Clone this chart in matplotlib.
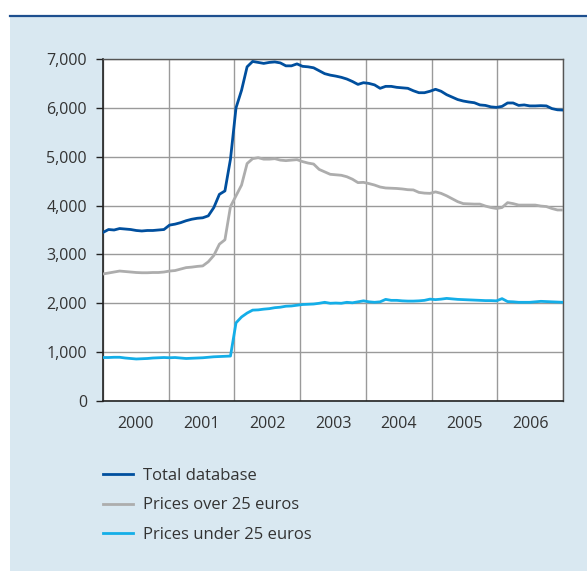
import numpy as np
import matplotlib.pyplot as plt
from matplotlib.lines import Line2D
from matplotlib.patches import Rectangle

plt.rcParams['font.family'] = ['Open Sans', 'DejaVu Sans']

# monthly values, Jan 2000 .. Dec 2006
total = [3450, 3510, 3500, 3530, 3520, 3510, 3490, 3480, 3490, 3490, 3500, 3510,
         3600, 3620, 3650, 3690, 3720, 3740, 3750, 3790, 3960, 4230, 4300, 4950,
         6000, 6360, 6840, 6950, 6930, 6910, 6930, 6940, 6920, 6860, 6860, 6900,
         6850, 6840, 6820, 6760, 6700, 6670, 6650, 6625, 6590, 6540, 6480, 6515,
         6500, 6470, 6400, 6440, 6440, 6420, 6410, 6400, 6350, 6310, 6310, 6340,
         6380, 6340, 6270, 6220, 6170, 6140, 6120, 6105, 6060, 6050, 6020, 6010,
         6030, 6100, 6100, 6050, 6060, 6040, 6040, 6045, 6040, 5985, 5960, 5955]

over25 = [2600, 2620, 2640, 2660, 2650, 2640, 2630, 2625, 2625, 2630, 2630, 2640,
          2660, 2670, 2700, 2730, 2740, 2755, 2765, 2850, 2980, 3210, 3300, 3980,
          4200, 4420, 4860, 4960, 4980, 4950, 4950, 4960, 4930, 4920, 4930, 4940,
          4900, 4870, 4850, 4740, 4690, 4640, 4630, 4620, 4590, 4540, 4470, 4475,
          4450, 4420, 4380, 4360, 4355, 4350, 4340, 4325, 4320, 4270, 4255, 4250,
          4280, 4250, 4200, 4140, 4080, 4040, 4035, 4030, 4030, 3990, 3960, 3940,
          3960, 4060, 4040, 4010, 4010, 4010, 4010, 3990, 3980, 3940, 3910, 3910]

under25 = [890, 890, 895, 895, 880, 870, 860, 865, 870, 880, 885, 890,
           885, 890, 880, 870, 875, 880, 885, 895, 905, 910, 915, 920,
           1600, 1720, 1800, 1860, 1865, 1880, 1890, 1910, 1920, 1940, 1945, 1960,
           1975, 1980, 1985, 2000, 2020, 2000, 2005, 2000, 2020, 2010, 2030, 2050,
           2030, 2020, 2030, 2080, 2060, 2060, 2050, 2045, 2045, 2050, 2060, 2085,
           2075, 2085, 2100, 2090, 2080, 2075, 2070, 2065, 2060, 2055, 2055, 2050,
           2095, 2035, 2030, 2020, 2020, 2020, 2030, 2040, 2035, 2030, 2025, 2020]

years = ['2000', '2001', '2002', '2003', '2004', '2005', '2006']
labels = ['Total database', 'Prices over 25 euros', 'Prices under 25 euros']
colors = ['#004f9e', '#adadad', '#14aee8']

x = np.linspace(2000, 2007, len(total))

fig = plt.figure(figsize=(5.87, 5.71), dpi=100)
fig.patch.set_facecolor('white')
# light blue panel with dark top rule
fig.add_artist(Rectangle((10/587, 0), 1, 1 - 16/571, transform=fig.transFigure,
                         facecolor='#d9e8f1', edgecolor='none', zorder=0))
fig.add_artist(Line2D([10/587, 1], [1 - 15.5/571, 1 - 15.5/571], transform=fig.transFigure,
                      color='#1d4f8f', lw=1.6, zorder=1))

ax = fig.add_axes([103/587, 1 - 401/571, 460/587, 342/571])
ax.set_facecolor('white')

for s, c, l in zip([total, over25, under25], colors, labels):
    ax.plot(x, s, color=c, lw=2.0, label=l, zorder=3, solid_joinstyle='round')

ax.set_xlim(2000, 2007)
ax.set_ylim(0, 7000)
ax.set_yticks(range(0, 7001, 1000))
ax.set_yticklabels(['{:,}'.format(v) for v in range(0, 7001, 1000)])
ax.set_xticks(range(2000, 2008))
ax.set_xticklabels([])
ax.set_xticks(np.arange(2000.5, 2007, 1), minor=True)
ax.set_xticklabels(years, minor=True)
ax.tick_params(axis='x', which='both', length=0, pad=11, labelsize=11.5, colors='#333333')
ax.tick_params(axis='y', length=5, width=1, pad=6.5, labelsize=11.5, colors='#333333')
ax.tick_params(axis='y', color='#222222')
ax.grid(True, which='major', color='#9a9a9a', lw=1)
ax.set_axisbelow(True)
for side in ['left', 'bottom']:
    ax.spines[side].set_color('#222222')
    ax.spines[side].set_linewidth(1.2)
for side in ['top', 'right']:
    ax.spines[side].set_color('#555555')
    ax.spines[side].set_linewidth(1)

fig.legend(loc='upper left', bbox_to_anchor=(103/587, 1 - 468/571), frameon=False,
           fontsize=12, handlelength=1.8, handletextpad=0.6, labelspacing=0.8,
           borderpad=0, borderaxespad=0, labelcolor='#333333')

fig.savefig('out.png', dpi=100, facecolor=fig.get_facecolor())
